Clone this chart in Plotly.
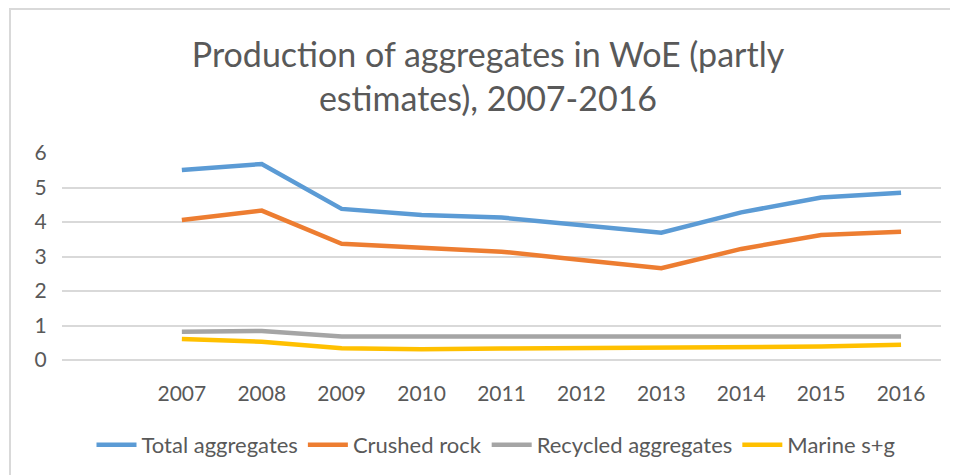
import plotly.graph_objects as go

years = ["2007", "2008", "2009", "2010", "2011", "2012", "2013", "2014", "2015", "2016"]
total_aggregates = [5.51, 5.68, 4.38, 4.20, 4.13, 3.92, 3.69, 4.28, 4.71, 4.85]
crushed_rock = [4.06, 4.33, 3.37, 3.24, 3.14, 2.90, 2.66, 3.22, 3.62, 3.72]
recycled_aggregates = [0.82, 0.84, 0.68, 0.68, 0.68, 0.68, 0.68, 0.68, 0.68, 0.68]
marine_sg = [0.61, 0.53, 0.34, 0.31, 0.33, 0.34, 0.34, 0.37, 0.39, 0.44]

series = [
    ("Total aggregates", total_aggregates, "#5B9BD5"),
    ("Crushed rock", crushed_rock, "#ED7D31"),
    ("Recycled aggregates", recycled_aggregates, "#A5A5A5"),
    ("Marine s+g", marine_sg, "#FFC000"),
]

FONT = "Lato, 'Open Sans', sans-serif"
TXT = "#595959"

fig = go.Figure()
for name, vals, color in series:
    fig.add_trace(go.Scatter(x=years, y=vals, name=name, mode="lines",
                             line=dict(color=color, width=4.5)))

# page has an 8px body margin: figure coordinates = page coordinates - 8
OFF = 8
W, H = 958, 475
# target plot area in page px: x 62..941, y 153..360
L = 62 - OFF
T = 153 - OFF
R = W - (941 - OFF)
B = H - (360 - OFF)
pw, ph = W - L - R, H - T - B

def px_x(x):  # page px -> paper x
    return (x - OFF - L) / pw

def px_y(y):  # page px -> paper y
    return (H - B - (y - OFF)) / ph

fig.update_layout(
    width=W, height=H,
    margin=dict(l=L, r=R, t=T, b=B),
    paper_bgcolor="white", plot_bgcolor="white",
    font=dict(family=FONT, color=TXT, size=19),
    title=dict(text="Production of aggregates in WoE (partly<br>estimates), 2007-2016",
               x=480 / W, xanchor="center", y=1 - 59 / H, yanchor="middle",
               font=dict(size=34, color=TXT, family=FONT)),
    showlegend=True,
    legend=dict(orientation="h", x=px_x(496), xanchor="center", y=px_y(445), yanchor="middle",
                font=dict(size=22, color=TXT), itemwidth=40, traceorder="normal"),
    xaxis=dict(type="category", categoryorder="array", categoryarray=[" "] + years,
               range=[-0.5, len(years) + 0.5], showgrid=False, zeroline=False,
               showline=False, ticks="outside", ticklen=15, tickcolor="rgba(0,0,0,0)",
               tickfont=dict(size=21, color=TXT)),
    yaxis=dict(range=[0, 6], dtick=1, showgrid=True, gridcolor="#D9D9D9", gridwidth=1.5,
               zeroline=True, zerolinecolor="#D9D9D9", zerolinewidth=1.5, showline=False,
               ticks="outside", ticklen=10, tickcolor="rgba(0,0,0,0)",
               tickfont=dict(size=21, color=TXT)),
    shapes=[dict(type="rect", xref="paper", yref="paper",
                 x0=px_x(10), x1=px_x(1000), y0=px_y(520), y1=px_y(9),
                 line=dict(color="#D9D9D9", width=2), fillcolor="rgba(0,0,0,0)", layer="below")],
)

fig.write_html("out.html")
